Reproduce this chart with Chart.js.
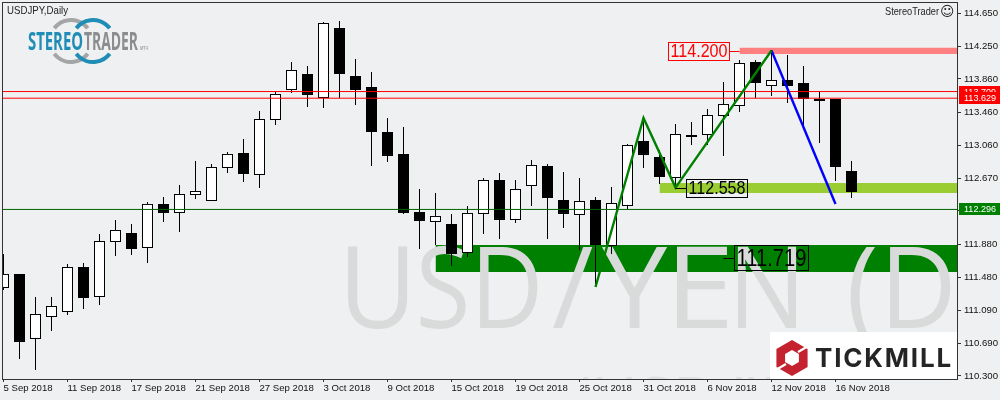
<!DOCTYPE html>
<html><head><meta charset="utf-8">
<style>html,body{margin:0;padding:0;background:#eff0f2}canvas{display:block}</style>
<script src="https://cdn.jsdelivr.net/npm/chart.js@4"></script>
</head><body><canvas id="c" width="1000" height="400"></canvas>
<script>
const opens=[111.355,111.523,110.744,111.007,111.067,111.606,111.247,111.906,112.014,111.834,112.362,112.254,112.469,112.397,112.793,112.973,112.709,113.368,113.727,113.919,113.632,114.470,113.895,113.763,113.224,112.961,112.266,112.146,112.122,111.774,112.242,112.649,112.170,112.577,112.817,112.409,112.230,112.409,111.858,112.338,113.116,112.925,112.673,113.164,113.188,113.416,113.536,114.063,113.775,113.847,113.811,113.596,113.620,112.757];
const closes=[111.523,110.708,111.043,111.139,111.606,111.235,111.918,112.050,111.822,112.362,112.254,112.481,112.517,112.805,112.961,112.721,113.380,113.680,113.967,113.668,114.530,113.919,113.727,113.224,112.937,112.254,112.158,112.218,111.762,112.254,112.649,112.170,112.541,112.829,112.433,112.242,112.397,111.870,112.373,113.068,112.949,112.685,113.200,113.188,113.428,113.560,114.051,113.811,113.847,113.775,113.620,113.620,112.805,112.505];
const highs=[111.762,111.523,111.247,111.247,111.642,111.655,112.002,112.170,112.122,112.385,112.445,112.589,112.877,112.841,112.985,113.140,113.476,113.704,114.063,114.015,114.542,114.554,114.099,113.943,113.392,113.284,112.541,112.493,112.242,112.338,112.673,112.733,112.649,112.889,112.841,112.745,112.673,112.445,112.565,113.080,113.344,113.009,113.320,113.344,113.500,113.823,114.087,114.087,114.207,114.147,114.015,113.704,113.620,112.877];
const lows=[111.331,110.504,110.372,110.840,111.031,111.103,111.151,111.738,111.750,111.655,112.146,112.026,112.421,112.397,112.733,112.625,112.553,113.308,113.692,113.524,113.512,113.632,113.548,112.817,112.865,112.242,111.822,111.870,111.618,111.726,112.002,111.942,112.134,112.338,111.942,112.074,111.810,111.367,111.762,112.302,112.793,112.601,112.553,113.068,113.068,112.937,113.464,113.632,113.656,113.572,113.284,113.092,112.637,112.433];
const isUp=[true,false,true,true,true,false,true,true,false,true,false,true,true,true,true,false,true,true,true,false,true,false,false,false,false,false,false,true,false,true,true,false,true,true,false,false,true,false,true,true,false,false,true,true,true,true,true,false,true,false,false,true,false,false];

const xTickIndex=[0,4,8,12,16,20,24,28,32,36,40,44,48,52];
const xTickLabels=['5 Sep 2018','11 Sep 2018','17 Sep 2018','21 Sep 2018','27 Sep 2018','3 Oct 2018','9 Oct 2018','15 Oct 2018','19 Oct 2018','25 Oct 2018','31 Oct 2018','6 Nov 2018','12 Nov 2018','16 Nov 2018'];
const yTicks=[114.650,114.250,113.860,113.460,113.060,112.670,112.280,111.880,111.480,111.090,110.690,110.300];

const xFirst=-0.03125, xLast=59.59375;
const levelRedA=113.709, levelRedB=113.629, levelGreen=112.296;
const zoneDark=[27,111.870,111.547];
const zoneLight=[41,112.613,112.493];
const zonePink=[46,114.234,114.159];
const zigIdx=[37,40,42,48];
const zigVal=[111.367,113.392,112.558,114.200];
const zigBlueIdx=[48,52];
const zigBlueVal=[114.200,112.362];
const notes=[['114.200',46,114.200,'#ff0000'],['112.558',42,112.558,'#000000'],['111.719',45,111.719,'#000000']];
const watermarkGlyphs=[['U',348,408],['S',420,466],['D',480,538],['/',553,593],['Y',602,668],['E',677,727],['N',738,797],['(',850,875],['D',890,951]];

const UI='"Liberation Sans",Arial,sans-serif';
function zone(z,color,order){
  return {type:'line',data:[{x:z[0],y:z[1]},{x:xLast,y:z[1]}],borderWidth:0,pointRadius:0,
    backgroundColor:color,fill:{target:{value:z[2]}},order};
}
function hline(v,color){
  return {type:'line',data:[{x:xFirst,y:v},{x:xLast,y:v}],borderColor:color,borderWidth:1,pointRadius:0,fill:false,order:3};
}
function zig(ix,vals,color){
  return {type:'line',data:ix.map((x,i)=>({x,y:vals[i]})),borderColor:color,borderWidth:2.4,pointRadius:0,tension:0,fill:false,order:2};
}
const wickData=highs.map((h,i)=>({x:i,y:[lows[i],h]}));
const bodyData=opens.map((o,i)=>({x:i,y:[Math.min(o,closes[i]),Math.max(o,closes[i])]}));

const decor={
  id:'decor',
  afterDatasetDraw(chart,args){
    if(args.index!==2) return;
    const {ctx,chartArea:a}=chart;
    ctx.save();
    ctx.beginPath();ctx.rect(a.left,a.top,a.right-a.left,a.bottom-a.top);ctx.clip();
    ctx.fillStyle='#d9dbdb';ctx.textBaseline='alphabetic';ctx.textAlign='left';
    ctx.font='113px "Open Sans",sans-serif';
    watermarkGlyphs.forEach(([ch,x0,x1])=>{
      const m=ctx.measureText(ch);
      const inkL=-m.actualBoundingBoxLeft,inkR=m.actualBoundingBoxRight;
      ctx.save();ctx.translate(x0,328);ctx.scale((x1-x0)/(inkR-inkL),1);
      ctx.fillText(ch,-inkL,0);ctx.restore();
    });
    ctx.fillStyle='#dfe0e1';
    ctx.font='64px "Open Sans",sans-serif';
    ctx.fillText('(USD/JPY)',572,423);
    ctx.restore();
  },
  afterDatasetsDraw(chart){
    const {ctx,chartArea:a,scales:{x,y}}=chart;
    ctx.save();
    ctx.textBaseline='middle';ctx.textAlign='left';
    notes.forEach((n,i)=>{
      const px=x.getPixelForValue(n[1]),py=y.getPixelForValue(n[2]);
      const big=i===2;
      const w=big?74:61,h=big?25:18;
      const bx=i===0?px-10.5-w:px+10.5;
      const by=Math.round(py-h/2)+0.5;
      ctx.strokeStyle=n[3];ctx.lineWidth=1;
      ctx.strokeRect(Math.round(bx)+0.5,by,w,h);
      ctx.beginPath();
      ctx.moveTo(i===0?bx+w:px,Math.round(py)+0.5);ctx.lineTo(i===0?px:bx,Math.round(py)+0.5);ctx.stroke();
      ctx.fillStyle=n[3];
      ctx.font=(big?'24px ':'18px ')+UI;
      ctx.fillText(n[0],Math.round(bx)+2.5,by+h/2+1,w-4);
    });
    ctx.fillStyle='#ffffff';ctx.fillRect(770,332,187,47);
    const cx=792,cy=358,r=18;
    const hex=(rad)=>{ctx.beginPath();for(let k=0;k<6;k++){const t=Math.PI/3*k-Math.PI/2;const X=cx+rad*Math.cos(t),Y=cy+rad*Math.sin(t);k?ctx.lineTo(X,Y):ctx.moveTo(X,Y);}ctx.closePath();};
    ctx.fillStyle='#c4222e';hex(r);ctx.fill();
    ctx.fillStyle='#ffffff';hex(8);ctx.fill();
    ctx.strokeStyle='#ffffff';ctx.lineWidth=2.2;
    ctx.beginPath();ctx.moveTo(798,352);ctx.lineTo(810,345);ctx.moveTo(786,364);ctx.lineTo(774,371);ctx.stroke();
    ctx.fillStyle='#252525';ctx.textBaseline='alphabetic';
    ctx.font='bold 26px Inter,sans-serif';
    ctx.letterSpacing='1.8px';
    ctx.fillText('TICKMILL',815,367);
    ctx.letterSpacing='0px';
    ctx.lineWidth=4;ctx.lineCap='butt';
    const arcs=(c,col)=>{ctx.strokeStyle=col;ctx.beginPath();ctx.arc(c,41,21,-2.49,-0.65);ctx.stroke();ctx.beginPath();ctx.arc(c,41,21,0.65,2.49);ctx.stroke();};
    arcs(71,'#a3a5a7');arcs(93,'#1f8db5');
    ctx.font='bold 25px "Open Sans",sans-serif';
    ctx.fillStyle='#1f8db5';ctx.fillText('STEREO',28,50,55);
    ctx.fillStyle='#8b8d8f';ctx.fillText('TRADER',84,50,54);
    ctx.font='bold 6px '+UI;ctx.fillStyle='#a3a5a7';ctx.fillText('MT4',140,50,8);
    ctx.textBaseline='middle';ctx.fillStyle='#222222';
    ctx.font='11px '+UI;ctx.fillText('USDJPY,Daily',7,11,61);
    ctx.fillText('StereoTrader',885,12,54);
    ctx.font='14px "DejaVu Sans"';ctx.fillText('\u263A',940,12);
    const tag=(v,bg)=>{
      const py=Math.round(y.getPixelForValue(v));
      ctx.fillStyle=bg;ctx.fillRect(959,py-6,41,12);
      ctx.fillStyle='#ffffff';ctx.font='9.6px '+UI;ctx.textBaseline='middle';
      ctx.fillText(v.toFixed(3),964,py+0.5,32);
    };
    tag(levelRedA,'#ff0000');tag(levelRedB,'#ff0000');tag(levelGreen,'#008000');
    ctx.strokeStyle='#333333';ctx.lineWidth=1;
    ctx.strokeRect(a.left-0.5,a.top-0.5,a.right-a.left+1,a.bottom-a.top+1);
    ctx.restore();
  }
};

new Chart(document.getElementById('c'),{
  data:{datasets:[
    zone(zoneDark,'#008000',12),
    zone(zoneLight,'#9acd32',11),
    zone(zonePink,'#ff8080',10),
    {type:'bar',data:wickData,backgroundColor:'#000000',borderWidth:0,grouped:false,barThickness:1,maxBarThickness:1,inflateAmount:0,order:6},
    {type:'bar',data:bodyData,backgroundColor:isUp.map(u=>u?'#ffffff':'#000000'),borderColor:'#000000',borderWidth:1,borderSkipped:false,grouped:false,barThickness:11,maxBarThickness:11,inflateAmount:0,order:5},
    hline(levelRedA,'#ff0000'),hline(levelRedB,'#ff0000'),hline(levelGreen,'#006400'),
    zig(zigIdx,zigVal,'#008000'),
    zig(zigBlueIdx,zigBlueVal,'#0000ff')
  ]},
  options:{
    responsive:false,animation:false,devicePixelRatio:1,
    layout:{padding:{left:3,top:3,right:0,bottom:0}},
    plugins:{legend:{display:false},tooltip:{enabled:false}},
    scales:{
      x:{type:'linear',offset:false,min:xFirst,max:xLast,
        afterBuildTicks(s){s.ticks=xTickIndex.map(v=>({value:v}));},
        afterFit(s){s.height=21;s.paddingLeft=0;s.paddingRight=0;},
        grid:{offset:false,drawOnChartArea:false,drawTicks:true,tickLength:3,color:'#333333'},border:{display:false},
        ticks:{autoSkip:false,maxRotation:0,align:'start',padding:1,color:'#111111',font:{family:'Liberation Sans',size:9.6},
          callback(v){const i=xTickIndex.indexOf(v);return i<0?'':xTickLabels[i];}}},
      y:{type:'linear',position:'right',min:110.264,max:114.770,
        afterBuildTicks(s){s.ticks=yTicks.map(v=>({value:v}));},
        afterFit(s){s.width=43;s.paddingTop=0;s.paddingBottom=0;},
        grid:{drawOnChartArea:false,drawTicks:true,tickLength:4,color:'#333333'},border:{display:false},
        ticks:{autoSkip:false,padding:3,color:'#111111',font:{family:'Liberation Sans',size:9.6},
          callback(v){return v.toFixed(3);}}}
    }
  },
  plugins:[decor]
});
</script></body></html>
